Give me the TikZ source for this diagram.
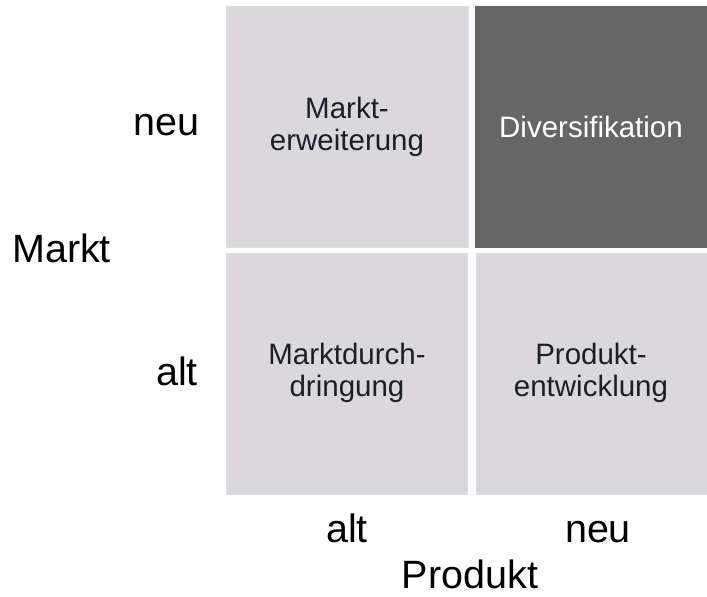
\documentclass[tikz,border=0pt]{standalone}
\usepackage{fontspec}
\setmainfont{Liberation Sans}
\definecolor{cellgray}{RGB}{218,216,218}
\definecolor{cellborder}{RGB}{222,222,230}
\definecolor{darkcell}{RGB}{102,102,102}
\definecolor{celltext}{RGB}{30,30,40}
\begin{document}
\begin{tikzpicture}[x=1pt,y=-1pt,
  cell/.style={draw=cellborder,line width=0.8pt,fill=cellgray},
  darkbox/.style={draw=darkcell,fill=darkcell},
  celllabel/.style={align=center,text=celltext,font=\fontsize{29.5}{32}\selectfont},
  axislabel/.style={inner sep=0pt,font=\fontsize{39.5}{44}\selectfont}]
\useasboundingbox (0,0) rectangle (707,597);
% cells
\path[cell] (226,6) rectangle (468,247);
\path[darkbox] (475,6) rectangle (707,247);
\path[cell] (226,253) rectangle (467,494);
\path[cell] (476,253) rectangle (707,494);
% cell texts
\node[celllabel] (me) at (347,126.5) {Markt-\\erweiterung};
\node[celllabel,text=white] (div) at (591,126.5) {Diversifikation};
\node[celllabel] (md) at (347,373) {Marktdurch-\\dringung};
\node[celllabel] (pe) at (591,373) {Produkt-\\entwicklung};
% axis labels
\node[axislabel,anchor=base east] (mneu) at (200,135) {neu};
\node[axislabel,anchor=base west] (markt) at (12,262) {Markt};
\node[axislabel,anchor=base east] (malt) at (198,385) {alt};
\node[axislabel,anchor=base] (palt) at (347,542) {alt};
\node[axislabel,anchor=base] (pneu) at (598,542) {neu};
\node[axislabel,anchor=base,text depth=0pt] (produkt) at (470,588) {Produkt};
\end{tikzpicture}
\end{document}
